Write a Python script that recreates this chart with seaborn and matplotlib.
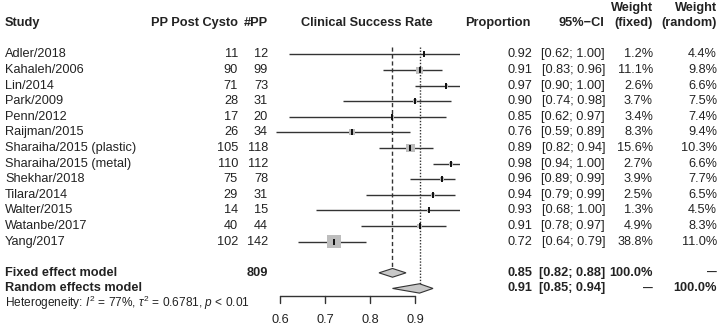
import numpy as np
import pandas as pd
import seaborn as sns
from matplotlib import pyplot as plt
from matplotlib import transforms

studies = ['Adler/2018', 'Kahaleh/2006', 'Lin/2014', 'Park/2009', 'Penn/2012',
           'Raijman/2015', 'Sharaiha/2015 (plastic)', 'Sharaiha/2015 (metal)',
           'Shekhar/2018', 'Tilara/2014', 'Walter/2015', 'Watanbe/2017', 'Yang/2017']
events = [11, 90, 71, 28, 17, 26, 105, 110, 75, 29, 14, 40, 102]
totals = [12, 99, 73, 31, 20, 34, 118, 112, 78, 31, 15, 44, 142]
prop = [0.92, 0.91, 0.97, 0.90, 0.85, 0.76, 0.89, 0.98, 0.96, 0.94, 0.93, 0.91, 0.72]
ci_low = [0.62, 0.83, 0.90, 0.74, 0.62, 0.59, 0.82, 0.94, 0.89, 0.79, 0.68, 0.78, 0.64]
ci_high = [1.00, 0.96, 1.00, 0.98, 0.97, 0.89, 0.94, 1.00, 0.99, 0.99, 1.00, 0.97, 0.79]
w_fixed = [1.2, 11.1, 2.6, 3.7, 3.4, 8.3, 15.6, 2.7, 3.9, 2.5, 1.3, 4.9, 38.8]
w_random = [4.4, 9.8, 6.6, 7.5, 7.4, 9.4, 10.3, 6.6, 7.7, 6.5, 4.5, 8.3, 11.0]

fixed_est, fixed_ci = 0.85, (0.82, 0.88)
random_est, random_ci = 0.91, (0.85, 0.94)
total_n = 809
ticks = [0.6, 0.7, 0.8, 0.9]

df = pd.DataFrame({'study': studies, 'prop': prop, 'lo': ci_low, 'hi': ci_high,
                   'wf': w_fixed, 'row': np.arange(len(studies))})

sns.set_theme(style='white')
plt.rcParams['font.family'] = ['Liberation Sans', 'DejaVu Sans']
plt.rcParams['mathtext.fontset'] = 'custom'
plt.rcParams['mathtext.rm'] = 'Liberation Sans'
plt.rcParams['mathtext.it'] = 'Liberation Sans:italic'

W, H = 721, 329
fig = plt.figure(figsize=(W / 100, H / 100), dpi=100)
ax = fig.add_axes([235 / W, 0, 225 / W, 1])
ax.set_xlim(0.5, 1.0)
ax.set_ylim(17.6, -3.49)
ax.axis('off')

fs = 9.2
txt = '#222222'
tr = transforms.blended_transform_factory(fig.transFigure, ax.transData)


def put(xpx, y, s, ha='right', bold=False, size=fs):
    fig.text(xpx / W, y, s, transform=tr, ha=ha, va='center', fontsize=size,
             color=txt, fontweight='bold' if bold else 'normal')


# reference lines
fixed_y, random_y = len(studies) + 1, len(studies) + 2
ax.vlines(fixed_est, -0.5, fixed_y - 0.3, color='#333333', lw=1, ls=(0, (3, 2)))
ax.vlines(random_est, -0.5, random_y - 0.3, color='#333333', lw=1, ls=(0, (1, 1.2)))

# study CIs, squares, point marks
ax.hlines(df.row, df.lo, df.hi, color='#333333', lw=1)
sns.scatterplot(data=df, x='prop', y='row', size='wf', sizes=(1.2 * 2.26, 38.8 * 2.26),
                size_norm=(1.2, 38.8), marker='s', color='#bdbdbd', edgecolor='none',
                legend=False, ax=ax, zorder=3)
sns.scatterplot(data=df, x='prop', y='row', marker='|', s=14, color='black',
                linewidth=1.3, legend=False, ax=ax, zorder=4)

# diamonds
for est, (lo, hi), y, h in [(fixed_est, fixed_ci, fixed_y, 0.28),
                            (random_est, random_ci, random_y, 0.3)]:
    ax.fill([lo, est, hi, est], [y, y - h, y, y + h], facecolor='#c8c8c8',
            edgecolor='#333333', lw=0.8, zorder=3)

# x axis
axis_y = random_y + 0.5
ax.plot([ticks[0], ticks[-1]], [axis_y, axis_y], color='#333333', lw=1)
for t in ticks:
    ax.plot([t, t], [axis_y, axis_y + 0.45], color='#333333', lw=1)
    ax.text(t, axis_y + 1.5, f'{t:.1f}', ha='center', va='center', fontsize=fs, color=txt)

# headers
hy = -2
put(5, hy, 'Study', ha='left', bold=True)
put(238, hy, 'PP Post Cysto', bold=True)
put(268, hy, '#PP', bold=True)
put(367, hy, 'Clinical Success Rate', ha='center', bold=True)
put(531, hy, 'Proportion', bold=True)
put(604, hy, '95%\u2212CI', bold=True)
put(653, hy - 0.97, 'Weight', bold=True)
put(653, hy, '(fixed)', bold=True)
put(717, hy - 0.97, 'Weight', bold=True)
put(717, hy, '(random)', bold=True)

# study rows
for i in range(len(studies)):
    put(5, i, studies[i], ha='left')
    put(238, i, str(events[i]))
    put(268, i, str(totals[i]))
    put(532, i, f'{prop[i]:.2f}')
    put(605, i, f'[{ci_low[i]:.2f}; {ci_high[i]:.2f}]')
    put(653, i, f'{w_fixed[i]:.1f}%')
    put(717, i, f'{w_random[i]:.1f}%')

dash = '\u2014'

# pooled rows
put(5, fixed_y, 'Fixed effect model', ha='left', bold=True)
put(268, fixed_y, str(total_n), bold=True)
put(532, fixed_y, f'{fixed_est:.2f}', bold=True)
put(605, fixed_y, f'[{fixed_ci[0]:.2f}; {fixed_ci[1]:.2f}]', bold=True)
put(653, fixed_y, '100.0%', bold=True)
put(717, fixed_y, dash, bold=True, size=7)

put(5, random_y, 'Random effects model', ha='left', bold=True)
put(532, random_y, f'{random_est:.2f}', bold=True)
put(605, random_y, f'[{random_ci[0]:.2f}; {random_ci[1]:.2f}]', bold=True)
put(653, random_y, dash, bold=True, size=7)
put(717, random_y, '100.0%', bold=True)

put(5, random_y + 0.95,
    r'Heterogeneity: $I^2$ = 77%, $\tau^2$ = 0.6781, $p$ < 0.01', ha='left', size=8.6)

fig.savefig('out.png', dpi=100, facecolor='white')
